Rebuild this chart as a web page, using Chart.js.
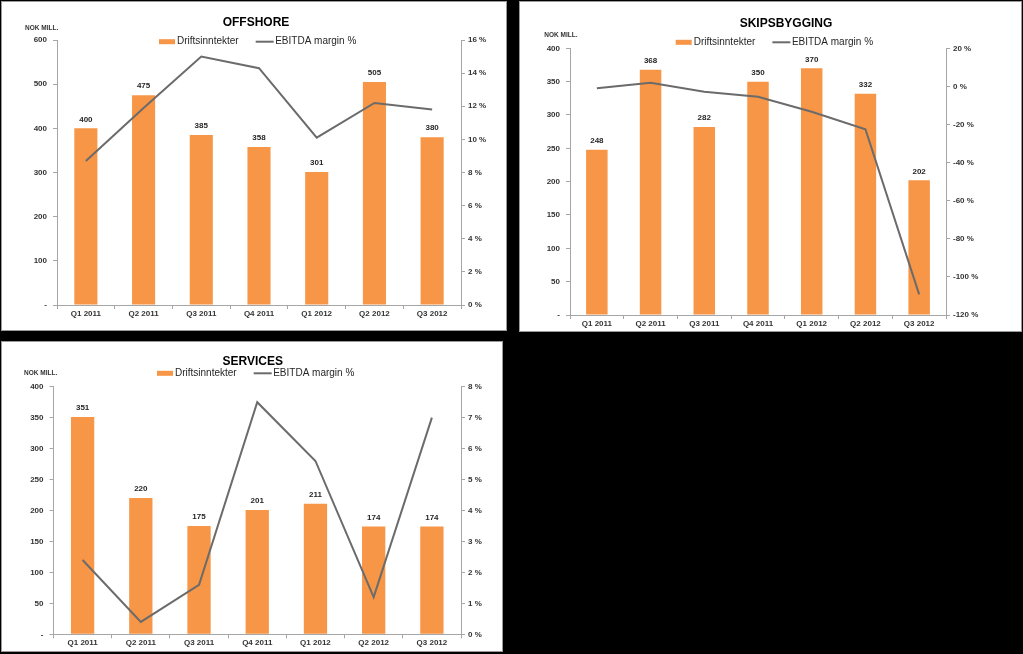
<!DOCTYPE html>
<html>
<head>
<meta charset="utf-8">
<script src="https://cdn.jsdelivr.net/npm/chart.js@4.4.1/dist/chart.umd.min.js"></script>
<style>
  body { margin: 0; background: #000; width: 1023px; height: 654px; overflow: hidden; position: relative; }
  .panel { position: absolute; background: #fff; border: 1px solid #9a9a9a; }
  .panel canvas { display: block; }
</style>
</head>
<body>
<div class="panel" style="left:1px;top:1px;width:504px;height:328px"><canvas id="offshore" width="504" height="328"></canvas></div>
<div class="panel" style="left:519px;top:1px;width:501px;height:329px"><canvas id="skipsbygging" width="501" height="329"></canvas></div>
<div class="panel" style="left:1px;top:341px;width:500px;height:309px"><canvas id="services" width="500" height="309"></canvas></div>
<script>
// kvartaler
const quarters = ['Q1 2011', 'Q2 2011', 'Q3 2011', 'Q4 2011', 'Q1 2012', 'Q2 2012', 'Q3 2012'];

// Offshore
const offshoreRevenue = [400, 475, 385, 358, 301, 505, 380];
const offshoreMargin = [8.7, 11.9, 15.0, 14.3, 10.1, 12.2, 11.8];
const offshoreLeftAxis = [0, 600, 100];
const offshoreRightAxis = [0, 16, 2];

// Skipsbygging
const skipsRevenue = [248, 368, 282, 350, 370, 332, 202];
const skipsMargin = [-1.0, 1.9, -2.8, -5.4, -13.3, -22.5, -109.2];
const skipsLeftAxis = [0, 400, 50];
const skipsRightAxis = [-120, 20, 20];

// Services
const servicesRevenue = [351, 220, 175, 201, 211, 174, 174];
const servicesMargin = [2.4, 0.4, 1.6, 7.5, 5.6, 1.2, 7.0];
const servicesLeftAxis = [0, 400, 50];
const servicesRightAxis = [0, 8, 1];

const seriesNames = ['Driftsinntekter', 'EBITDA margin %'];

const orange = '#F79646';
const lineGrey = '#6b6b6b';
const axisGrey = '#a6a6a6';
const textDark = '#333333';
const fontFamily = '"Liberation Sans", Arial, sans-serif';

Chart.defaults.font.family = fontFamily;

// tittel, legende, "NOK MILL." og verdier over søylene
const decorPlugin = {
  id: 'decor',
  afterDatasetsDraw(chart, args, opts) {
    const ctx = chart.ctx;
    const meta = chart.getDatasetMeta(1);
    ctx.save();
    ctx.font = 'bold 8px ' + fontFamily;
    ctx.fillStyle = '#262626';
    ctx.textAlign = 'center';
    ctx.textBaseline = 'middle';
    meta.data.forEach((bar, i) => {
      ctx.fillText(chart.data.datasets[1].data[i], bar.x, bar.y - 9);
    });
    ctx.restore();
  },
  afterDraw(chart, args, opts) {
    const ctx = chart.ctx;
    ctx.save();
    // tittel
    ctx.font = 'bold 12px ' + fontFamily;
    ctx.fillStyle = '#000';
    ctx.textAlign = 'center';
    ctx.textBaseline = 'middle';
    ctx.fillText(opts.title, opts.titleX, opts.titleY);

    // NOK MILL.
    ctx.font = 'bold 6.5px ' + fontFamily;
    ctx.fillStyle = textDark;
    ctx.textAlign = 'left';
    ctx.fillText('NOK MILL.', opts.nokX, opts.nokY);

    // legende
    let x = opts.legendX;
    const y = opts.legendY;
    ctx.font = '10px ' + fontFamily;
    ctx.fillStyle = orange;
    ctx.fillRect(x, y - 2.5, 16, 5);
    ctx.fillStyle = '#262626';
    ctx.fillText(seriesNames[0], x + 18, y);
    x = x + 18 + ctx.measureText(seriesNames[0]).width + 17;
    ctx.strokeStyle = lineGrey;
    ctx.lineWidth = 2;
    ctx.beginPath();
    ctx.moveTo(x, y);
    ctx.lineTo(x + 18, y);
    ctx.stroke();
    ctx.fillText(seriesNames[1], x + 19.5, y);
    ctx.restore();
  }
};

function makeChart(id, revenue, margin, leftAxis, rightAxis, area, decor) {
  const canvas = document.getElementById(id);
  const W = canvas.width;
  const H = canvas.height;
  const tickFont = { size: 8, weight: 'bold' };

  return new Chart(canvas, {
    type: 'bar',
    data: {
      labels: quarters,
      datasets: [
        {
          type: 'line',
          label: seriesNames[1],
          data: margin,
          yAxisID: 'y1',
          borderColor: lineGrey,
          borderWidth: 2,
          pointRadius: 0,
          tension: 0
        },
        {
          type: 'bar',
          label: seriesNames[0],
          data: revenue,
          yAxisID: 'y',
          backgroundColor: orange,
          barPercentage: 0.4,
          categoryPercentage: 1
        }
      ]
    },
    options: {
      responsive: false,
      animation: false,
      layout: { padding: { top: area.t, left: 0, right: 0, bottom: 0 } },
      plugins: {
        legend: { display: false },
        tooltip: { enabled: false },
        decor: decor
      },
      scales: {
        x: {
          grid: { drawOnChartArea: false, offset: true, tickLength: 4, color: axisGrey },
          border: { color: axisGrey },
          ticks: { font: tickFont, color: textDark, padding: 0, maxRotation: 0, autoSkip: false },
          afterFit(s) { s.height = H - area.b; }
        },
        y: {
          position: 'left',
          min: leftAxis[0],
          max: leftAxis[1],
          ticks: {
            stepSize: leftAxis[2],
            font: tickFont,
            color: textDark,
            padding: 6,
            callback: v => v === 0 ? '-' : v
          },
          grid: { drawOnChartArea: false, tickLength: 4, color: axisGrey },
          border: { color: axisGrey },
          afterFit(s) { s.width = area.l; }
        },
        y1: {
          position: 'right',
          min: rightAxis[0],
          max: rightAxis[1],
          ticks: {
            stepSize: rightAxis[2],
            font: tickFont,
            color: textDark,
            padding: 3,
            callback: v => v + ' %'
          },
          grid: { drawOnChartArea: false, tickLength: 4, color: axisGrey },
          border: { color: axisGrey },
          afterFit(s) { s.width = W - area.r; }
        }
      }
    },
    plugins: [decorPlugin]
  });
}

makeChart('offshore', offshoreRevenue, offshoreMargin, offshoreLeftAxis, offshoreRightAxis,
  { l: 55, r: 459, t: 38, b: 303 },
  { title: 'OFFSHORE', titleX: 254, titleY: 21, legendX: 157, legendY: 39.7, nokX: 23, nokY: 26.3 });

makeChart('skipsbygging', skipsRevenue, skipsMargin, skipsLeftAxis, skipsRightAxis,
  { l: 50, r: 426, t: 46.3, b: 313 },
  { title: 'SKIPSBYGGING', titleX: 266, titleY: 22, legendX: 155.7, legendY: 40.3, nokX: 24.3, nokY: 33.7 });

makeChart('services', servicesRevenue, servicesMargin, servicesLeftAxis, servicesRightAxis,
  { l: 51.5, r: 459, t: 44.7, b: 292.3 },
  { title: 'SERVICES', titleX: 250.7, titleY: 19.7, legendX: 155, legendY: 31.3, nokX: 22, nokY: 31.3 });
</script>
</body>
</html>
